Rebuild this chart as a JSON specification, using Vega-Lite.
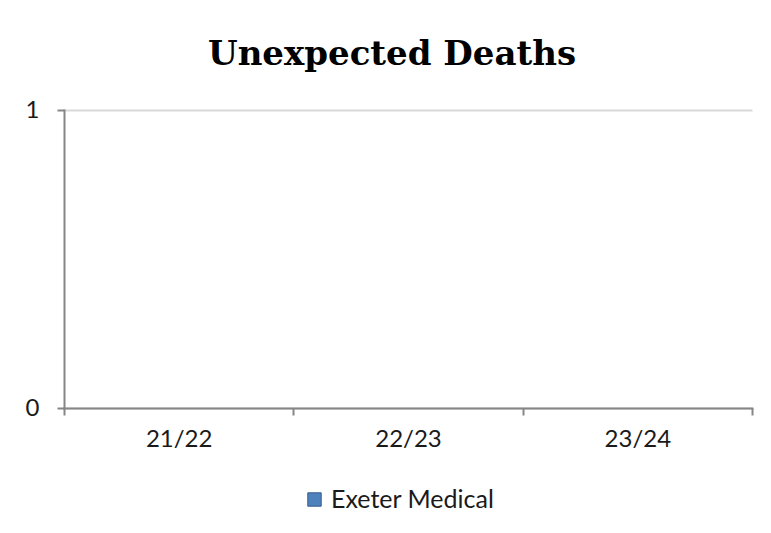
{
  "$schema": "https://vega.github.io/schema/vega-lite/v6.json",
  "width": 688,
  "height": 298,
  "autosize": {"type": "none"},
  "padding": {"left": 64, "top": 110, "right": 19, "bottom": 125},
  "background": "white",
  "title": {
    "text": "Unexpected Deaths",
    "font": "DejaVu Serif",
    "fontSize": 34,
    "fontWeight": "bold",
    "color": "#000000",
    "anchor": "middle",
    "dx": -16,
    "baseline": "alphabetic",
    "offset": -1
  },
  "data": {
    "values": [
      {"year": "21/22", "series": "Exeter Medical", "deaths": 0},
      {"year": "22/23", "series": "Exeter Medical", "deaths": 0},
      {"year": "23/24", "series": "Exeter Medical", "deaths": 0}
    ]
  },
  "mark": {"type": "bar", "strokeWidth": 0},
  "encoding": {
    "x": {
      "field": "year",
      "type": "nominal",
      "sort": null,
      "title": null,
      "scale": {"paddingInner": 0, "paddingOuter": 0},
      "axis": {
        "labelAngle": 0,
        "tickBand": "extent",
        "domainColor": "#868686",
        "domainWidth": 2,
        "tickColor": "#868686",
        "tickWidth": 2,
        "tickSize": 7,
        "labelPadding": 12,
        "labelFont": "Lato",
        "labelFontSize": 24,
        "labelColor": "#1a1a1a",
        "grid": false
      }
    },
    "y": {
      "field": "deaths",
      "type": "quantitative",
      "title": null,
      "scale": {"domain": [0, 1], "nice": false},
      "axis": {
        "values": [0, 1],
        "format": "d",
        "domainColor": "#868686",
        "domainWidth": 2,
        "tickColor": "#868686",
        "tickWidth": 2,
        "tickSize": 7,
        "labelPadding": 18,
        "labelFont": "Lato",
        "labelFontSize": 24,
        "labelColor": "#1a1a1a",
        "grid": true,
        "gridColor": "#d9d9d9",
        "gridWidth": 2
      }
    },
    "color": {
      "field": "series",
      "type": "nominal",
      "title": null,
      "scale": {"range": ["#4f81bd"]},
      "legend": {
        "orient": "none",
        "legendX": 238,
        "legendY": 377,
        "direction": "horizontal",
        "symbolType": "square",
        "symbolSize": 180,
        "symbolStrokeColor": "#385d8a",
        "symbolStrokeWidth": 1,
        "labelFont": "Lato",
        "labelFontSize": 25,
        "labelLimit": 400,
        "labelColor": "#1a1a1a"
      }
    }
  },
  "config": {
    "view": {"stroke": null},
    "axis": {"domainCap": "square"}
  }
}
